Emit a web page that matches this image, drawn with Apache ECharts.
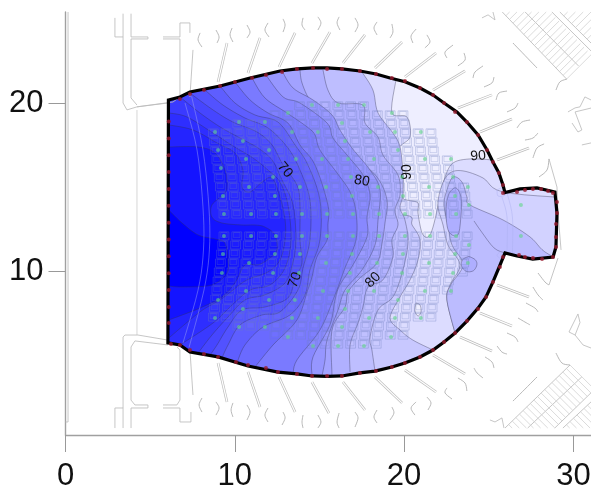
<!DOCTYPE html>
<html><head><meta charset="utf-8">
<style>html,body{margin:0;padding:0;background:#fff}#c{width:591px;height:487px}canvas{filter:blur(.3px)}</style>
<script src="https://cdn.jsdelivr.net/npm/echarts@6/dist/echarts.min.js"></script>
</head><body><div id="c"></div>
<script>
// axis ticks
const xTicks=[0,10,20,30];
const yTicks=[10,20];
// room outline (x,y metres)
const hall=[[6.08,20.18],[6.76,20.36],[7.35,20.65],[9.13,21.01],[10.9,21.48],[12.67,21.9],[13.67,22.02],[14.62,22.08],[15.45,22.08],[16.33,22.02],[17.4,21.9],[18.34,21.72],[19.17,21.48],[20.05,21.26],[20.94,20.89],[21.71,20.47],[22.36,20],[23.12,19.47],[23.71,18.87],[24.37,18.1],[24.9,17.21],[25.25,16.5],[25.6,15.85],[25.84,15.13],[25.96,14.68],[26.85,14.9],[27.85,14.96],[28.91,14.72],[29.03,13.47],[28.97,11.45],[28.8,10.86],[27.6,10.74],[26.67,10.92],[25.96,11.1],[25.67,10.39],[25.25,9.38],[24.84,8.49],[24.37,7.83],[23.71,7.06],[23.01,6.35],[22.36,5.82],[21.71,5.34],[20.94,4.93],[20.05,4.57],[19.28,4.33],[18.28,4.09],[17.39,3.98],[16.33,3.8],[15.45,3.78],[14.56,3.8],[13.67,3.92],[12.55,4.03],[10.78,4.39],[9.01,4.93],[7.35,5.22],[6.76,5.64],[6.05,5.76]];
// contour lines, lightest level first
const c90=[[19.52,21.37],[19.28,19.41],[20.17,19.17],[20.35,17.98],[19.64,17.21],[19.88,15.61],[19.93,14.42],[20.17,14.24],[20.82,14.07],[20.82,13.47],[21.06,12.29],[21.41,12.05],[21.71,12.64],[22.12,14.42],[22.42,15.61],[22.89,16.44],[23.89,16.68],[25.25,16.62]];
const cP=[[29.8,14.36],[25.84,14.72],[24.66,15.55],[23.48,15.97],[22.71,15.85],[22.24,15.13],[22,13.95],[22.3,12.76],[22.59,11.57],[23.3,10.39],[22.71,9.2],[22.53,8.31],[23.01,6.35]];
const cQ=[[29.8,10.39],[28.32,11.16],[27.44,12.05],[25.84,13.06],[23.89,13.95],[23.71,14.42],[23.42,15.31],[22.89,15.61],[22.53,14.84],[22.36,13.95],[22.59,12.76],[22.83,11.57],[23.48,10.39],[22.75,9.2],[22.53,8.31],[23.01,6.35]];
const cN=[[16,13.35],[20.05,13.35],[20.47,12.76],[20.94,11.87],[20.82,10.68],[20.35,9.5],[19.76,8.49],[19.17,7.24],[19.76,6.53],[20.52,5.93],[21.71,5.34]];
const cM=[[17.51,21.84],[18.16,20.77],[18.46,19.41],[19.34,18.22],[19.76,17.39],[19.93,15.85],[19.93,14.54],[19.76,13.77],[20.05,13.06],[20.23,11.69],[19.88,9.91],[19.34,8.49],[18.46,7.72],[17.99,6.11],[18.1,5.34],[18.28,4.09]];
const cA=[[15.21,21.96],[15.5,20.77],[16.1,20],[17.57,19.88],[17.69,18.81],[18.46,17.98],[18.75,16.91],[19.64,15.73],[19.76,14.54],[19.46,13.65],[19.64,12.76],[19.28,11.87],[19.34,10.86],[18.75,9.5],[17.87,9.08],[17.57,7.89],[17.28,6.94],[16.81,5.64],[16.81,4.04]];
const cB=[[13.85,21.96],[13.97,21.19],[14.44,20.18],[15.21,19.59],[15.8,18.58],[16.39,17.8],[17.1,16.8],[18.4,15.61],[18.99,14.24],[18.87,12.88],[18.7,11.69],[18.4,10.5],[17.39,9.61],[16.69,8.78],[16.51,7.89],[15.74,6.53],[15.74,3.86]];
const cC=[[12.79,21.9],[13.44,20.89],[14.62,20.18],[15.74,19.29],[16.21,18.4],[16.92,17.33],[17.99,16.02],[18.58,14.84],[18.46,13.06],[18.28,11.57],[17.51,10.09],[16.51,8.9],[16.1,7.72],[15.45,5.93],[15.33,4.75],[15.15,3.8]];
const cD=[[11.84,21.66],[12.85,20.36],[13.85,20],[15.45,18.81],[15.8,17.92],[16.63,16.91],[17.57,15.73],[17.99,14.54],[17.81,13.23],[17.81,12.05],[16.98,10.39],[16.21,9.2],[15.92,8.31],[15.62,6.83],[14.62,4.93],[14.56,3.86]];
const cH=[[11.02,21.48],[11.78,20.3],[13.08,19.41],[14.27,18.58],[14.74,18.1],[15.03,17.21],[16.04,15.85],[16.81,14.72],[17.16,13.53],[17.16,11.87],[16.51,10.21],[15.92,8.61],[15.03,6.53],[13.67,4.75],[13.44,3.86]];
const cE=[[10.01,21.25],[10.9,20.18],[11.96,19.41],[13.14,18.81],[13.85,17.51],[14.74,16.32],[15.5,13.95],[15.5,12.76],[15.45,11.87],[14.85,10.86],[14.56,9.67],[14.27,8.78],[13.67,7.12],[12.26,5.64],[11.19,4.33]];
const cG=[[9.13,21.01],[10.01,20],[11.19,19.29],[12.55,18.87],[13.56,17.51],[14.32,16.32],[15.03,14.24],[15.03,11.87],[14.44,10.09],[14.15,8.61],[13.26,7.42],[11.67,6.71],[10.6,5.64],[10.13,4.57]];
const cF=[[8.24,20.77],[9.3,19.88],[10.6,19.11],[11.96,18.52],[13.14,17.33],[13.85,16.02],[14.44,14.24],[14.44,11.87],[14.03,10.21],[13.73,8.9],[12.67,7.6],[11.61,7.42],[10.31,6.83],[9.6,5.64],[9.24,4.87]];
const c70=[[7.35,20.59],[8.71,19.59],[9.89,18.87],[11.31,18.28],[12.2,17.51],[12.85,16.32],[13.67,15.13],[13.85,13.95],[13.85,11.87],[13.97,10.5],[13.56,9.61],[13.14,8.43],[11.78,7.89],[10.43,7.72],[9.6,6.71],[8.95,5.64],[8.54,5.04]];
const cLd=[[6.76,20.36],[7.94,19.41],[9.13,18.58],[10.31,17.92],[11.37,17.33],[12.2,16.62],[12.79,15.43],[13.44,13.95],[13.61,11.87],[13.44,10.56],[12.97,9.32],[11.78,8.61],[10.6,8.31],[9.6,7.3],[8.65,6.23],[7.83,5.16]];
const cLc=[[6.1,19.41],[7.18,19.17],[8.71,18.22],[9.89,17.45],[11.07,16.74],[11.96,16.02],[12.67,15.31],[13.14,13.95],[13.32,11.87],[12.97,10.21],[12.08,9.2],[10.9,8.9],[9.84,8.01],[8.71,6.94],[6.76,5.64]];
const cK2=[[6.1,18.7],[7.53,18.4],[8.95,17.63],[10.01,17.03],[10.48,16.02],[10.43,15.01],[10.9,14.72],[11.61,15.31],[12.2,15.55],[12.67,14.42],[12.97,13.06],[12.97,11.87],[12.67,10.68],[11.96,9.97],[10.72,9.5],[9.89,8.9],[9.13,8.31],[7.94,7.6],[6.1,6.05]];
const cK1=[[6.1,17.39],[7.83,17.39],[8.83,17.03],[9.42,16.02],[9.54,15.01],[9.3,14.54],[8.65,13.95],[8.65,13.23],[9.24,12.88],[10.43,12.76],[11.19,12.76],[11.78,12.64],[12.37,12.17],[12.49,11.28],[12.08,10.8],[11.37,10.39],[10.6,10.39],[10.01,9.32],[9.24,8.49],[7.94,7.83],[6.1,7.12]];
const cK0=[[6.1,13.65],[6.88,12.88],[7.83,12.17],[8.83,11.93],[9.42,11.69],[9.6,10.68],[9.54,9.91],[8.65,9.2],[6.88,9.08],[6.1,9.14]];
const innerLoop=[[22.53,14.24],[22.71,14.72],[23.07,14.96],[23.36,14.42],[23.36,13.35],[23.18,12.17],[22.65,12.35],[22.47,13.35]];
const circleLoop=[[23.83,10.9],[24.2,10.7],[24.3,10.4],[24.1,10.05],[23.7,10.0],[23.4,10.3],[23.45,10.7]];
const spotLoop=[[20.7,8.13],[20.94,8.01],[21,7.6],[20.82,7.36],[20.64,7.66]];
const extraLine=[[24.13,13.0],[24.54,12.4],[25.31,11.4],[25.96,11.1]];
const hallColor='#eeeeff';
const levelColors=['#dcdcff','#d2d2ff','#bcbcff','#c8c8ff','#bebeff','#b0b0ff','#a2a2ff','#9696ff','#8888ff','#7a7aff','#6a6aff','#5e5eff','#5252ff','#4646ff','#3a3aff','#2e2eff','#2424ff','#1414ff','#0000ff'];
// contour labels: text, x, y, angle
const labelText=['70','70','80','80','90','90'];
const labelX=[12.97,13.56,17.51,18.16,20.17,24.37];
const labelY=[16.02,9.5,15.37,9.5,15.9,16.85];
const labelAngle=[-50,70,-10,45,90,5];
// measurement points
const edgePoints=[[6.1,18.9],[6.1,17.9],[6.1,16.9],[6.1,15.9],[6.1,14.9],[6.1,13.9],[6.1,12.9],[6.1,11.9],[6.1,10.9],[6.1,9.9],[6.1,8.9],[6.1,7.9],[6.1,6.95],[6.76,20.24],[7.35,20.54],[8.18,20.77],[9.13,21.01],[10.01,21.25],[11.02,21.48],[11.84,21.66],[12.79,21.84],[13.67,22.02],[14.62,22.08],[15.45,22.02],[16.33,22.02],[17.39,21.9],[18.34,21.72],[19.28,21.48],[20.05,21.31],[20.94,20.89],[21.71,20.48],[22.36,20],[23.01,19.47],[23.71,18.87],[24.37,18.1],[24.9,17.21],[25.25,16.5],[25.6,15.85],[25.84,15.13],[25.84,14.66],[26.67,14.72],[27.14,14.84],[27.61,14.9],[28.09,14.9],[28.5,14.78],[28.79,14.66],[29.03,14.12],[29.03,13.47],[28.97,12.82],[28.97,12.05],[28.97,11.45],[28.79,10.86],[28.15,10.74],[27.61,10.8],[27.14,10.86],[26.79,10.98],[25.84,10.86],[25.66,10.27],[25.25,9.38],[24.84,8.49],[24.37,7.77],[23.71,7.06],[23.01,6.35],[22.36,5.82],[21.71,5.34],[20.94,4.93],[20.05,4.57],[19.28,4.33],[18.34,4.09],[17.39,3.98],[16.33,3.8],[15.45,3.8],[14.56,3.8],[13.67,3.92],[12.55,4.04],[11.84,4.27],[10.78,4.45],[10.07,4.63],[9.01,4.93],[8.18,5.1],[7.35,5.34],[6.76,5.64],[6.23,5.7]];
const seatPoints=[[8.83,18.28],[9.01,17.21],[9.18,16.14],[9.3,14.48],[9.36,13.41],[10.25,18.87],[10.48,17.74],[10.66,16.68],[10.84,15.01],[10.96,13.41],[11.78,18.87],[12.02,17.21],[12.26,15.61],[12.37,14.48],[12.43,13.41],[13.14,19.41],[13.38,18.28],[13.61,16.68],[13.85,15.01],[14.56,19.88],[14.91,18.28],[15.15,16.68],[15.39,15.01],[15.45,13.41],[13.97,13.41],[15.45,12.11],[13.97,12.11],[16.1,19.88],[16.33,18.81],[16.51,17.74],[16.69,16.68],[16.86,15.61],[16.92,14.48],[16.98,13.41],[16.98,12.11],[17.63,19.88],[17.99,18.28],[18.22,16.68],[18.46,15.01],[18.52,13.41],[18.52,12.11],[19.28,19.41],[19.46,18.28],[19.64,17.21],[19.88,15.61],[19.93,14.48],[20.05,13.41],[20.05,12.11],[20.99,18.28],[21.23,16.68],[21.47,15.01],[21.53,13.41],[21.53,12.11],[22.77,16.68],[22.89,15.61],[23.01,14.48],[23.07,13.41],[23.07,12.11],[23.77,15.01],[23.83,13.95],[23.83,11.57],[26.9,13.95],[26.9,12.11],[13.85,11.04],[15.39,10.5],[13.79,9.91],[15.21,8.84],[13.55,8.31],[14.91,7.24],[13.38,7.24],[14.62,5.58],[16.92,11.04],[16.8,9.91],[16.69,8.84],[16.51,7.77],[16.33,6.71],[16.1,5.58],[18.4,10.5],[18.22,8.84],[17.93,7.24],[17.63,5.58],[19.93,11.04],[19.88,9.91],[19.64,8.31],[19.46,7.24],[19.23,6.11],[21.47,10.5],[21.23,8.84],[20.99,7.24],[23.01,11.04],[22.89,9.91],[22.77,8.84],[23.77,10.5],[9.36,12.11],[10.96,12.11],[12.43,12.11],[9.3,11.04],[10.84,10.5],[12.37,11.04],[9.24,9.91],[10.66,8.84],[12.26,9.91],[9.01,8.31],[12.02,8.31],[10.48,7.77],[8.83,7.24],[10.25,6.71],[11.78,6.71],[13.14,6.11]];
// seating plan: column top and bottom limits
const seatTopY=[18.28,18.58,18.87,18.93,18.99,19.23,19.47,19.76,19.9,19.9,19.9,19.9,19.9,19.6,19.4,19.4,18.28,18.28,16.68,15];
const seatBotY=[7.24,7,6.7,6.7,6.65,6.3,6.11,5.8,5.58,5.58,5.5,5.5,5.5,5.7,6.11,6.11,7.24,7.24,8.84,9.9];
// floor plan lines
const ribs=[[9.01,21.25,9.54,23.56],[10.78,21.78,11.49,23.86],[12.61,22.14,13.56,24.16],[14.56,22.37,15.62,24.21],[16.39,22.37,17.69,24.04],[18.28,22.08,19.88,23.62],[20.05,21.54,21.89,22.97],[21.71,20.77,23.6,21.9],[23.18,19.7,25.19,20.48],[24.48,18.28,26.37,19.05],[25.49,16.62,27.38,17.33],[9.01,4.57,9.54,2.26],[10.78,4.04,11.49,1.96],[12.61,3.74,13.56,1.66],[14.56,3.44,15.56,1.6],[16.39,3.44,17.69,1.78],[18.28,3.74,19.88,2.2],[20.05,4.15,21.89,2.85],[21.71,5.04,23.6,3.92],[23.3,6.11,25.19,5.28],[24.48,7.54,26.37,6.77],[25.49,9.2,27.38,8.49]];
const waves=[[7.95,24.16,7.83,23.74,8.06,23.32],[8.89,24.33,9.07,23.92,8.95,23.56],[9.84,24.45,9.72,24.04,9.89,23.62],[10.72,24.63,10.9,24.21,10.72,23.86],[11.96,24.75,11.78,24.33,12.02,23.92],[12.85,24.99,12.97,24.63,12.85,24.21],[14.03,25.05,13.97,24.63,14.15,24.33],[14.91,25.11,15.09,24.75,14.91,24.33],[16.16,25.11,16.04,24.75,16.21,24.33],[17.1,25.05,17.28,24.63,17.1,24.21],[18.4,24.81,18.22,24.45,18.4,24.04],[19.28,24.69,19.34,24.21,19.17,23.86],[20.71,24.39,20.41,23.98,20.52,23.56],[21.35,24.04,21.53,23.62,21.23,23.27],[22.89,23.44,22.42,23.03,22.53,22.67],[23.54,22.97,23.6,22.55,23.18,22.2],[24.66,22.2,24.19,21.84,24.07,21.48],[25.31,21.54,25.19,21.19,24.72,20.95],[26.08,20.71,25.6,20.59,25.43,20.18],[26.73,20,26.55,19.7,26.08,19.47],[27.44,18.99,26.96,18.87,26.67,18.52],[27.91,18.22,27.61,17.92,27.14,17.8],[28.27,17.57,27.85,17.33,27.61,16.74],[28.56,16.68,28.44,16.02,27.97,15.61],[8.06,2.49,7.89,2.08,8.06,1.66],[8.89,2.26,9.07,1.9,8.89,1.48],[9.89,2.2,9.78,1.78,9.89,1.37],[10.72,2.08,10.9,1.66,10.72,1.19],[11.96,1.9,11.78,1.48,11.96,1.07],[12.85,1.66,12.97,1.31,12.79,.89],[14.03,1.48,13.97,1.07,14.03,.71],[14.91,1.48,15.09,1.07,14.91,.71],[16.16,1.6,16.04,1.07,16.16,.71],[17.1,1.66,17.28,1.31,17.1,.77],[18.4,1.78,18.22,1.37,18.4,1.01],[19.28,1.96,19.4,1.6,19.17,1.19],[20.71,2.26,20.41,1.9,20.64,1.48],[21.35,2.55,21.59,2.2,21.41,1.78],[22.53,3.09,22.42,2.79,22.83,2.43],[23.18,3.68,23.6,3.38,23.71,2.91],[24.13,4.27,24.31,3.98,24.66,3.68],[24.78,4.93,25.19,4.63,25.31,4.27],[25.49,5.58,25.78,5.22,26.08,5.1],[26.08,6.35,26.55,6.11,26.73,5.82],[26.73,7.24,27.14,7,27.44,6.83],[27.2,8.13,27.73,7.83,27.91,7.6],[27.61,9.08,27.91,8.61,28.2,8.31],[27.91,9.91,28.32,9.38,28.56,9.2],[26.43,23.56,27.14,22.82,27.85,22.08],[26.43,2.31,27.14,3.02,27.85,3.74],[29.62,21.42,29.2,21.25,28.97,20.77],[29.8,4.45,29.32,4.57,28.97,5.16]];
const frames=[
[[2.92,25.05],[2.92,23.92],[3.4,23.92],[3.4,20],[3.63,19.59],[4.22,19.77],[6.05,20]],
[[3.4,25.3],[3.4,23.92]],
[[3.87,25.3],[3.87,23.92],[4.87,23.92],[4.87,23.8],[3.87,23.8],[3.87,20.3],[4.22,19.88]],
[[5.76,23.92],[6.76,23.92],[6.76,24.75],[7.35,24.75],[7.35,24.16]],
[[5.76,23.8],[6.76,23.8],[6.76,20.36],[6.35,20.06],[4.22,19.77]],
[[7.53,23.15],[7.35,20.36]],
[[2.92,.71],[2.92,1.9],[3.4,1.9],[3.4,6.11],[3.51,6.23],[4.28,6.23],[6.05,5.93]],
[[3.4,.71],[3.4,1.9]],
[[3.87,.71],[3.87,1.9],[4.87,1.9],[4.87,2.08],[4.1,2.08],[3.87,2.37],[3.87,5.52],[4.1,5.88],[6.05,5.64]],
[[5.76,2.08],[6.58,2.08],[6.76,2.37],[6.76,5.34],[6.58,5.52]],
[[5.76,1.9],[6.76,1.9],[6.76,1.07],[7.41,1.07],[7.41,1.66]],
[[7.35,5.34],[7.53,2.67]],
[[.15,25.4],[.15,1.07],[0,1.07]],
[[29.68,19.47],[30.1,19.71],[30.39,19.77],[30.68,20.36],[31.04,20.18]],
[[29.92,18.81],[30.27,18.28],[30.5,18.4],[30.1,19.47],[31.04,19.7]],
[[30.5,17.51],[31.04,17.63]],
[[30.27,7.48],[29.74,6.41],[30.1,6.23],[30.39,6.97],[30.27,7.48]],
[[30.1,6.23],[30.57,5.64],[31.04,5.46]],
[[24.6,25.05],[24.96,25.23],[25.37,24.93],[25.25,25.4]],
[[25.07,1.19],[25.37,1.07],[25.78,1.31],[25.9,.71]],
[[28.56,16.68],[29.03,15.01],[29.09,13.47],[29.27,11.28]],
[[29.09,10.8],[28.56,9.2]],
[[25.8,25.4],[29.6,21.42]],[[27.15,25.4],[30.3,22.2]],[[28.73,25.4],[31.04,23.09]],[[29.2,25.4],[31.04,23.56]],
[[25.96,.71],[29.8,4.45]],[[27.3,.71],[30.5,3.75]],[[28.9,.71],[31.04,2.8]],[[29.38,.71],[31.04,2.26]]
];
const paleLine=[[4.22,19.59],[4.22,6.23]];
const innerArcs=[
[[7.06,20],[7.77,17.21],[8.12,13.83],[8.15,11.28],[7.83,8.9],[6.94,5.76]],
[[7.45,20.4],[8.12,17.21],[8.47,13.83],[8.5,11.28],[8.18,8.9],[7.3,5.5]],
[[25.78,14.42],[26.08,13.23],[26.08,11.28]],[[26.1,14.6],[26.4,13.23],[26.4,11.1]],
[[25.49,14.84],[25.84,14.96],[25.96,14.54],[25.55,14.48],[25.49,14.84]],
[[25.66,11.16],[25.49,10.98],[25.66,10.8],[25.96,10.98],[25.66,11.16]]];
// stair hatching: start of edge, end of edge, cross vector, number of strokes
const hatchBands=[[25.8,25.4,29.6,21.42,1.45,1.45,18],[29.2,25.4,31.04,23.56,1.8,1.8,8],[25.96,.71,29.8,4.45,1.45,-1.45,18],[29.38,.71,31.04,2.26,1.8,-1.8,8]];

const YTOP=25.4,YLOW=.71;
function spline(p,k){const o=[];for(let i=0;i<p.length-1;i++){const a=p[Math.max(i-1,0)],b=p[i],c=p[i+1],d=p[Math.min(i+2,p.length-1)];for(let j=0;j<k;j++){const t=j/k,t2=t*t,t3=t2*t;o.push([.5*(2*b[0]+(c[0]-a[0])*t+(2*a[0]-5*b[0]+4*c[0]-d[0])*t2+(3*b[0]-a[0]-3*c[0]+d[0])*t3),.5*(2*b[1]+(c[1]-a[1])*t+(2*a[1]-5*b[1]+4*c[1]-d[1])*t2+(3*b[1]-a[1]-3*c[1]+d[1])*t3)]);}}o.push(p[p.length-1]);return o;}
function closedSpline(p){return spline(p.concat([p[0]]),5);}
const layers=[
 [c90,[[30,16.62],[30,1],[5,1],[5,25],[19.52,25]]],
 [cP,[[23.01,1],[30,1],[30,14.36]]],
 [cQ,[[23.01,1],[30,1],[30,10.39]]],
 [cN],[cM],[cA],[cB],[cC],[cD],[cH],[cE],[cG],[cF],[c70],[cLd],[cLc],[cK2],[cK1],[cK0]];
function render(params,api){
 const P=p=>api.coord(p),ch=[];
 const poly=(pts,fill,stroke,w)=>ch.push({type:'polygon',shape:{points:pts.map(P)},style:{fill:fill,stroke:stroke||null,lineWidth:w||0},silent:true});
 const line=(pts,stroke,w)=>ch.push({type:'polyline',shape:{points:pts.map(P)},style:{fill:null,stroke:stroke,lineWidth:w},silent:true});
 const CONT='rgba(50,50,80,.5)',ARCH='#bcbcbc';
 poly([[5,1],[30,1],[30,25],[5,25]],hallColor);
 layers.forEach((l,i)=>{
  const s=spline(l[0],6),first=l[0][0],last=l[0][l[0].length-1];
  const cl=l[1]||[[last[0],1],[5,1],[5,25],[first[0],25]];
  poly(s.concat(cl),levelColors[i]);
  line(s,CONT,.75);
  if(i===2){poly(closedSpline(innerLoop),'#aeaeff',CONT,.75);poly(closedSpline(circleLoop),'#aeaeff',CONT,.75);line(spline(extraLine,4),CONT,.75);}
  if(i===3){poly(closedSpline(spotLoop),'#eeeeff',CONT,.75);}
 });
 // everything outside the room is painted out
 const corners=[[4.9,20.18],[4.9,.9],[30.2,.9],[30.2,25.2],[4.9,25.2],[4.9,20.18]];
 poly(hall.concat([hall[0]]).concat(corners).concat([hall[0]]),'#fff');
 // seats
 const SC='rgba(112,126,190,.36)';
 const seat=(cx,y)=>{const a=P([cx-.29,y+.24]),b=P([cx+.29,y-.24]);
  ch.push({type:'rect',shape:{x:a[0],y:a[1],width:b[0]-a[0],height:b[1]-a[1]},style:{fill:null,stroke:SC,lineWidth:.9},silent:true});
  ch.push({type:'rect',shape:{x:a[0]+1.6,y:a[1]+.6,width:b[0]-a[0]-3.2,height:b[1]-a[1]-3},style:{fill:'rgba(255,255,255,.04)',stroke:SC,lineWidth:.7},silent:true});};
 seatTopY.forEach((top,k)=>{const xa=9.36+.756*k;
  for(let y=13.41;y<=top+.1;y+=.535)seat(xa-.13*(y-13.41),y);
  for(let y=12.11;y>=seatBotY[k]-.1;y-=.535)seat(xa-.13*(12.11-y),y);});
 innerArcs.forEach(a=>line(spline(a,5),'rgba(170,175,240,.55)',.8));
 // floor plan
 line(paleLine,'#e2e2e2',1.4);
 frames.forEach(f=>line(f,ARCH,.85));
 ribs.forEach(r=>{const p=[[r[0],r[1]],[r[2],r[3]]];line(p,'#bdbdbd',2.6);line(p,'#fff',1.2);});
 waves.forEach(w=>line(spline([[w[0],w[1]],[w[2],w[3]],[w[4],w[5]]],5),'#acacac',.85));
 hatchBands.forEach(b=>{for(let i=0;i<=b[6];i++){const t=i/b[6];let x=b[0]+(b[2]-b[0])*t,y=b[1]+(b[3]-b[1])*t,x2=x+b[4],y2=y+b[5];
   if(y2>YTOP){const f=(YTOP-y)/(y2-y);x2=x+(x2-x)*f;y2=YTOP;}
   if(y2<YLOW){const f=(YLOW-y)/(y2-y);x2=x+(x2-x)*f;y2=YLOW;}
   if(x2>31.04){const f=(31.04-x)/(x2-x);y2=y+(y2-y)*f;x2=31.04;}
   line([[x,y],[x2,y2]],'#d2d2d2',.8);}});
 // room edge
 poly(hall,null,'#000',3.2);
 labelText.forEach((t,i)=>{const c=P([labelX[i],labelY[i]]);
  ch.push({type:'text',x:c[0],y:c[1],rotation:labelAngle[i]*Math.PI/180,silent:true,style:{text:t,font:'14px "Liberation Sans"',fill:'#111',align:'center',verticalAlign:'middle'}});});
 return {type:'group',children:ch};
}
const axisBase={axisLine:{show:true,onZero:false,lineStyle:{color:'#a0a0a0',width:1.4}},axisTick:{show:true,length:17,lineStyle:{color:'#999',width:1}},splitLine:{show:false}};
const chart=echarts.init(document.getElementById('c'),null,{renderer:'canvas'});
chart.setOption({
 animation:false,backgroundColor:'#fff',
 grid:{left:65.5,right:0,top:12,bottom:52,containLabel:false,outerBoundsMode:'none'},
 xAxis:Object.assign({type:'value',min:0,max:31.04},axisBase,{axisTick:Object.assign({},axisBase.axisTick,{customValues:xTicks}),axisLabel:{customValues:xTicks,margin:26,fontSize:31,color:'#111',fontFamily:'Liberation Sans',hideOverlap:false}}),
 yAxis:Object.assign({type:'value',min:.297,max:25.4},axisBase,{axisTick:Object.assign({},axisBase.axisTick,{customValues:yTicks}),axisLabel:{customValues:yTicks,margin:22,fontSize:31,color:'#111',fontFamily:'Liberation Sans'}}),
 series:[
  {type:'custom',coordinateSystem:'cartesian2d',data:[[0,1]],renderItem:render,silent:true,z:2},
  {type:'scatter',data:seatPoints,symbolSize:4,itemStyle:{color:'rgba(95,215,135,.75)'},silent:true,z:3},
  {type:'scatter',data:edgePoints,symbolSize:4,itemStyle:{color:'#9a1c30'},silent:true,z:4}
 ]
});
</script></body></html>
